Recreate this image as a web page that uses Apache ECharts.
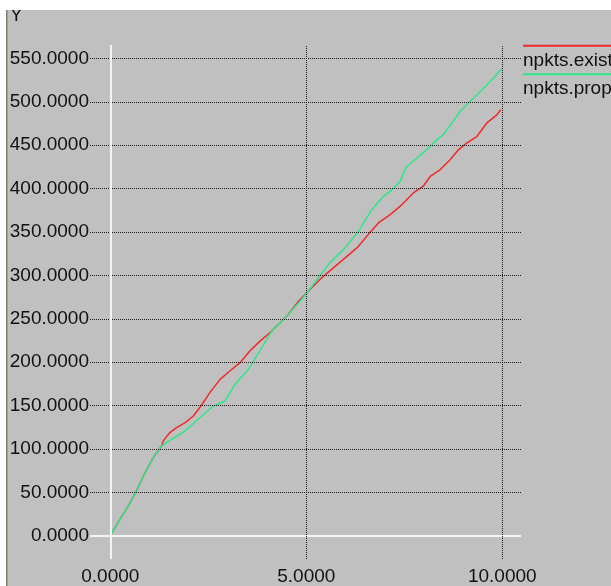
<!DOCTYPE html>
<html>
<head>
<meta charset="utf-8">
<style>
  html, body { margin: 0; padding: 0; background: #ffffff; }
  #chart { width: 611px; height: 586px; }
</style>
<script src="https://cdn.jsdelivr.net/npm/echarts@6/dist/echarts.min.js"></script>
</head>
<body>
<div id="chart"></div>
<script>
// Cumulative packet counts over time for the two schemes
const existX = [0, 0.25, 0.46, 0.65, 0.89, 1.10, 1.31, 1.35, 1.52, 1.69, 1.91, 2.12, 2.33, 2.54, 2.80, 3.05, 3.31, 3.56, 3.82, 4.07, 4.33, 4.54, 4.80, 5.05, 5.39, 5.69, 5.99, 6.29, 6.58, 6.84, 7.14, 7.39, 7.73, 7.98, 8.16, 8.41, 8.67, 8.88, 9.09, 9.35, 9.60, 9.86, 9.96];
const existY = [0, 19.2, 34.5, 49.9, 72.9, 90.2, 103.5, 109.3, 118.9, 124.7, 130.4, 138.0, 150.7, 164.9, 180.2, 189.8, 199.4, 212.8, 224.3, 233.9, 245.4, 255.0, 270.3, 281.8, 297.2, 308.7, 320.2, 331.7, 347.0, 360.4, 370.0, 379.5, 395.0, 402.5, 414.0, 421.7, 433.2, 444.7, 452.4, 460.0, 475.4, 485.0, 490.8];

const propX = [0, 0.25, 0.46, 0.65, 0.89, 1.10, 1.31, 1.57, 1.91, 2.24, 2.63, 2.93, 3.18, 3.52, 3.73, 4.12, 4.50, 4.84, 5.05, 5.27, 5.60, 5.99, 6.33, 6.67, 6.96, 7.14, 7.39, 7.56, 7.82, 8.07, 8.33, 8.49, 8.71, 8.92, 9.13, 9.26, 9.52, 9.77, 9.98];
const propY = [0, 19.2, 34.5, 49.9, 72.9, 90.2, 103.5, 111.2, 120.8, 134.2, 149.5, 155.3, 174.5, 191.7, 207.0, 235.8, 253.0, 270.3, 281.8, 295.2, 314.4, 331.7, 350.8, 375.7, 391.0, 396.8, 408.3, 425.5, 435.2, 444.7, 456.2, 462.0, 475.4, 488.8, 498.4, 504.2, 515.7, 527.2, 537.9];

const seriesNames = ['npkts.exist', 'npkts.prop'];
const seriesColors = ['#f02a2a', '#2de88a'];

// Axis ticks
const xTicks = [0, 5, 10];
const yTicks = [0, 50, 100, 150, 200, 250, 300, 350, 400, 450, 500, 550];

const FONT = 'Liberation Sans';
const pairs = (xs, ys) => xs.map((x, i) => [x, ys[i]]);

const dotted = { color: '#1a1a1a', width: 1, type: [1, 1] };
const solidWhite = { color: '#f4f4f4', width: 2, type: 'solid' };

const gridLines = []
  .concat(yTicks.map(v => ({ yAxis: v, lineStyle: v === 0 ? solidWhite : dotted })))
  .concat(xTicks.map(v => ({ xAxis: v, lineStyle: v === 0 ? solidWhite : dotted })));

const textStyle = (text) => ({
  text: text,
  fontFamily: FONT,
  fontSize: 19,
  fill: '#111',
  verticalAlign: 'middle'
});

const chart = echarts.init(document.getElementById('chart'), null, { renderer: 'canvas' });

chart.setOption({
  animation: false,
  backgroundColor: '#c0c0c0',
  grid: { left: 90, right: 90, top: 45, bottom: 26 },
  xAxis: {
    type: 'value',
    min: -0.518,
    max: 10.477,
    axisLine: { show: false },
    axisTick: { show: false },
    splitLine: { show: false },
    axisLabel: {
      customValues: xTicks,
      formatter: v => v.toFixed(4),
      fontFamily: FONT,
      fontSize: 19,
      color: '#111',
      margin: 8
    }
  },
  yAxis: {
    type: 'value',
    min: -26.8,
    max: 565.5,
    axisLine: { show: false },
    axisTick: { show: false },
    splitLine: { show: false },
    axisLabel: {
      customValues: yTicks,
      formatter: v => v.toFixed(4),
      fontFamily: FONT,
      fontSize: 19,
      color: '#111',
      margin: 1
    }
  },
  series: [
    {
      type: 'line',
      data: [],
      z: 1,
      silent: true,
      markLine: {
        silent: true,
        symbol: 'none',
        animation: false,
        label: { show: false },
        emphasis: { disabled: true },
        data: gridLines
      }
    },
    {
      name: seriesNames[0],
      type: 'line',
      z: 3,
      data: pairs(existX, existY),
      showSymbol: false,
      lineStyle: { color: seriesColors[0], width: 1.5 }
    },
    {
      name: seriesNames[1],
      type: 'line',
      z: 4,
      data: pairs(propX, propY),
      showSymbol: false,
      lineStyle: { color: seriesColors[1], width: 1.5 }
    }
  ],
  graphic: [
    // axis title
    { type: 'text', x: 10, y: 16, z: 5, style: textStyle('Y') },
    // window frame: white strips and left edge
    { type: 'rect', shape: { x: 0, y: 0, width: 611, height: 10 }, z: 10,
      style: { fill: '#ffffff' } },
    { type: 'rect', shape: { x: 0, y: 0, width: 6, height: 586 }, z: 10,
      style: { fill: '#ffffff' } },
    { type: 'rect', shape: { x: 6, y: 10, width: 1.5, height: 576 }, z: 10,
      style: { fill: '#857a6c' } },
    // legend
    { type: 'line', shape: { x1: 523, y1: 45.7, x2: 611, y2: 45.7 }, z: 5,
      style: { stroke: seriesColors[0], lineWidth: 2 } },
    { type: 'text', x: 523, y: 61, z: 5, style: textStyle(seriesNames[0]) },
    { type: 'line', shape: { x1: 523, y1: 74.3, x2: 611, y2: 74.3 }, z: 5,
      style: { stroke: seriesColors[1], lineWidth: 2 } },
    { type: 'text', x: 523, y: 89.2, z: 5, style: textStyle(seriesNames[1]) }
  ]
});
</script>
</body>
</html>
